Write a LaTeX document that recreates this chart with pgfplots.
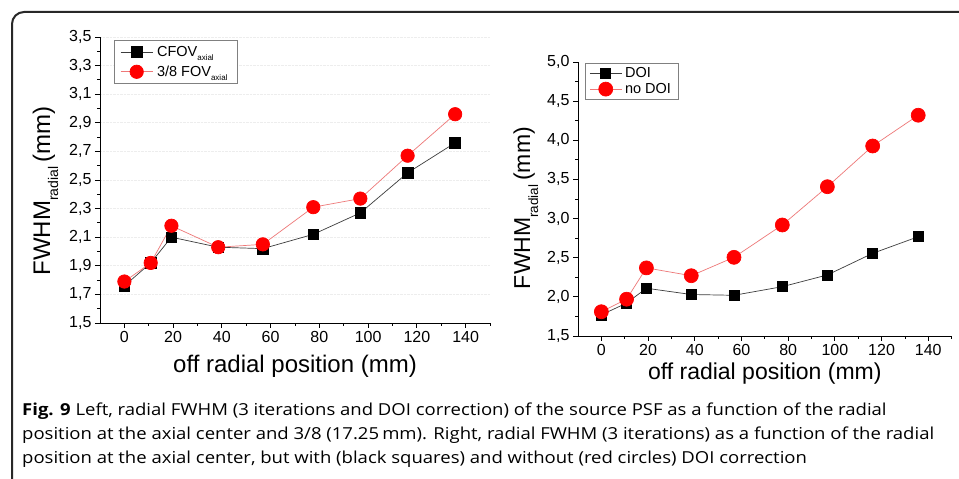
\documentclass[border=0pt]{standalone}
\usepackage{pgfplots}
\pgfplotsset{compat=1.18}
\usepackage{graphicx}
\usepackage{fontspec}
\setmainfont{Liberation Sans}
\newfontfamily\capfont{Open Sans}
\definecolor{myred}{RGB}{255,0,0}
\definecolor{redline}{RGB}{238,120,120}
\definecolor{blkline}{RGB}{60,60,60}
\definecolor{framec}{RGB}{40,40,40}
\newlength\capw
\newsavebox\capbox

\pgfplotsset{
  mystyle/.style={
    scale only axis,
    axis lines=left,
    axis line style={-, line width=0.9pt, black},
    xmin=-10, xmax=150,
    xtick={0,20,...,140},
    minor xtick={10,30,...,150},
    tick align=outside,
    major tick length=5pt,
    minor tick length=3pt,
    tick style={black, line width=0.8pt},
    /pgf/number format/assume math mode=true,
    ticklabel style={font=\fontsize{16}{16}\selectfont},
    y tick label style={/pgf/number format/.cd, use comma, fixed, fixed zerofill, precision=1, /tikz/.cd},
    x tick label style={/pgf/number format/.cd, fixed, precision=0, /tikz/.cd},
    label style={font=\fontsize{24}{24}\selectfont},
    legend cell align=left,
    legend image code/.code={\draw[mark repeat=2,mark phase=2,##1] plot coordinates {(0pt,0pt) (16pt,0pt) (32pt,0pt)};},
  },
  blk/.style={color=blkline, line width=0.7pt, mark=square*, mark size=5.3pt, mark options={solid, fill=black, draw=black}},
  rd/.style={color=redline, line width=0.7pt, mark=*, mark size=6.7pt, mark options={solid, fill=myred, draw=myred}},
}

\begin{document}
\sbox\capbox{\capfont\fontsize{16.5}{16.5}\selectfont position at the axial center and 3/8 (17.25\,mm). Right, radial FWHM (3 iterations) as a function of the radial}%
\setlength\capw{\wd\capbox}%
\pgfmathsetmacro\capscale{912/\capw}%
\begin{tikzpicture}
\useasboundingbox (0pt,0pt) rectangle (959pt,479pt);
\fill[white] (0pt,0pt) rectangle (959pt,479pt);
\draw[line width=2pt, framec, rounded corners=12pt] (12pt,-20pt) -- (12pt,467pt) -- (985pt,467pt);

% Left axis
\begin{axis}[mystyle,
  at={(100pt,156pt)}, anchor=south west,
  width=390pt, height=286pt,
  ymin=1.5, ymax=3.5,
  ytick={1.5,1.7,...,3.5},
  minor ytick={1.6,1.8,...,3.4},
  ymajorgrids, major grid style={densely dotted, gray!14, line width=0.8pt},
  xlabel={off radial position (mm)},
  xlabel style={at={(rel axis cs:0.5,0)}, anchor=base, yshift=-50pt},
  ylabel={FWHM\raisebox{-8pt}{\fontsize{14}{14}\selectfont radial}\,(mm)},
  ylabel style={at={(rel axis cs:-0.128,0.4615)}, anchor=base},
  legend style={at={(0.036,0.99)}, anchor=north west, draw=gray, line width=0.6pt,
    font=\fontsize{14.5}{14.5}\selectfont, inner xsep=6pt, inner ysep=4pt, row sep=4pt,
    nodes={inner xsep=4pt}},
]
\addplot[blk] coordinates {(0,1.76) (10.8,1.92) (19.3,2.10) (38.5,2.03) (56.8,2.02) (77.5,2.12) (96.8,2.27) (116.2,2.55) (135.7,2.76)};
\addlegendentry{CFOV\raisebox{-4.5pt}{\fontsize{8}{8}\selectfont axial}}
\addplot[rd] coordinates {(0,1.79) (10.8,1.92) (19.3,2.18) (38.5,2.03) (56.8,2.05) (77.5,2.31) (96.8,2.37) (116.2,2.67) (135.7,2.96)};
\addlegendentry{3/8 FOV\raisebox{-4.5pt}{\fontsize{8}{8}\selectfont axial}}
\end{axis}

% Right axis
\begin{axis}[mystyle,
  at={(578pt,143pt)}, anchor=south west,
  width=373.6pt, height=274pt,
  ymin=1.5, ymax=5.0,
  ytick={1.5,2.0,...,5.0},
  minor ytick={1.75,2.25,...,4.75},
  label style={font=\fontsize{23}{23}\selectfont},
  xlabel={off radial position (mm)},
  xlabel style={at={(rel axis cs:0.5,0)}, anchor=base, yshift=-44pt},
  ylabel={FWHM\raisebox{-8pt}{\fontsize{13.5}{13.5}\selectfont radial}\,(mm)},
  ylabel style={at={(rel axis cs:-0.128,0.467)}, anchor=base},
  legend style={at={(0.019,0.995)}, anchor=north west, draw=gray, line width=0.6pt,
    font=\fontsize{14.5}{14.5}\selectfont, inner xsep=4pt, inner ysep=2pt, row sep=0pt,
    nodes={inner xsep=3pt, inner ysep=2pt}},
]
\addplot[blk, mark size=5pt] coordinates {(0,1.77) (10.8,1.92) (19.3,2.11) (38.5,2.03) (56.8,2.02) (77.5,2.13) (96.8,2.28) (116.2,2.556) (135.7,2.768)};
\addlegendentry{DOI}
\addplot[rd, mark size=7pt] coordinates {(0,1.81) (10.8,1.97) (19.3,2.37) (38.5,2.27) (56.8,2.505) (77.5,2.918) (96.8,3.407) (116.2,3.927) (135.7,4.32)};
\addlegendentry{no DOI}
\end{axis}

% Caption
\node[anchor=base west, inner sep=0pt] at (22pt,63pt) {\scalebox{\capscale}[1]{\capfont\fontsize{16.5}{16.5}\selectfont \textbf{Fig. 9} Left, radial FWHM (3 iterations and DOI correction) of the source PSF as a function of the radial}};
\node[anchor=base west, inner sep=0pt] at (22pt,39pt) {\scalebox{\capscale}[1]{\capfont\fontsize{16.5}{16.5}\selectfont position at the axial center and 3/8 (17.25\,mm). Right, radial FWHM (3 iterations) as a function of the radial}};
\node[anchor=base west, inner sep=0pt] at (22pt,15pt) {\scalebox{\capscale}[1]{\capfont\fontsize{16.5}{16.5}\selectfont position at the axial center, but with (black squares) and without (red circles) DOI correction}};
\end{tikzpicture}
\end{document}
